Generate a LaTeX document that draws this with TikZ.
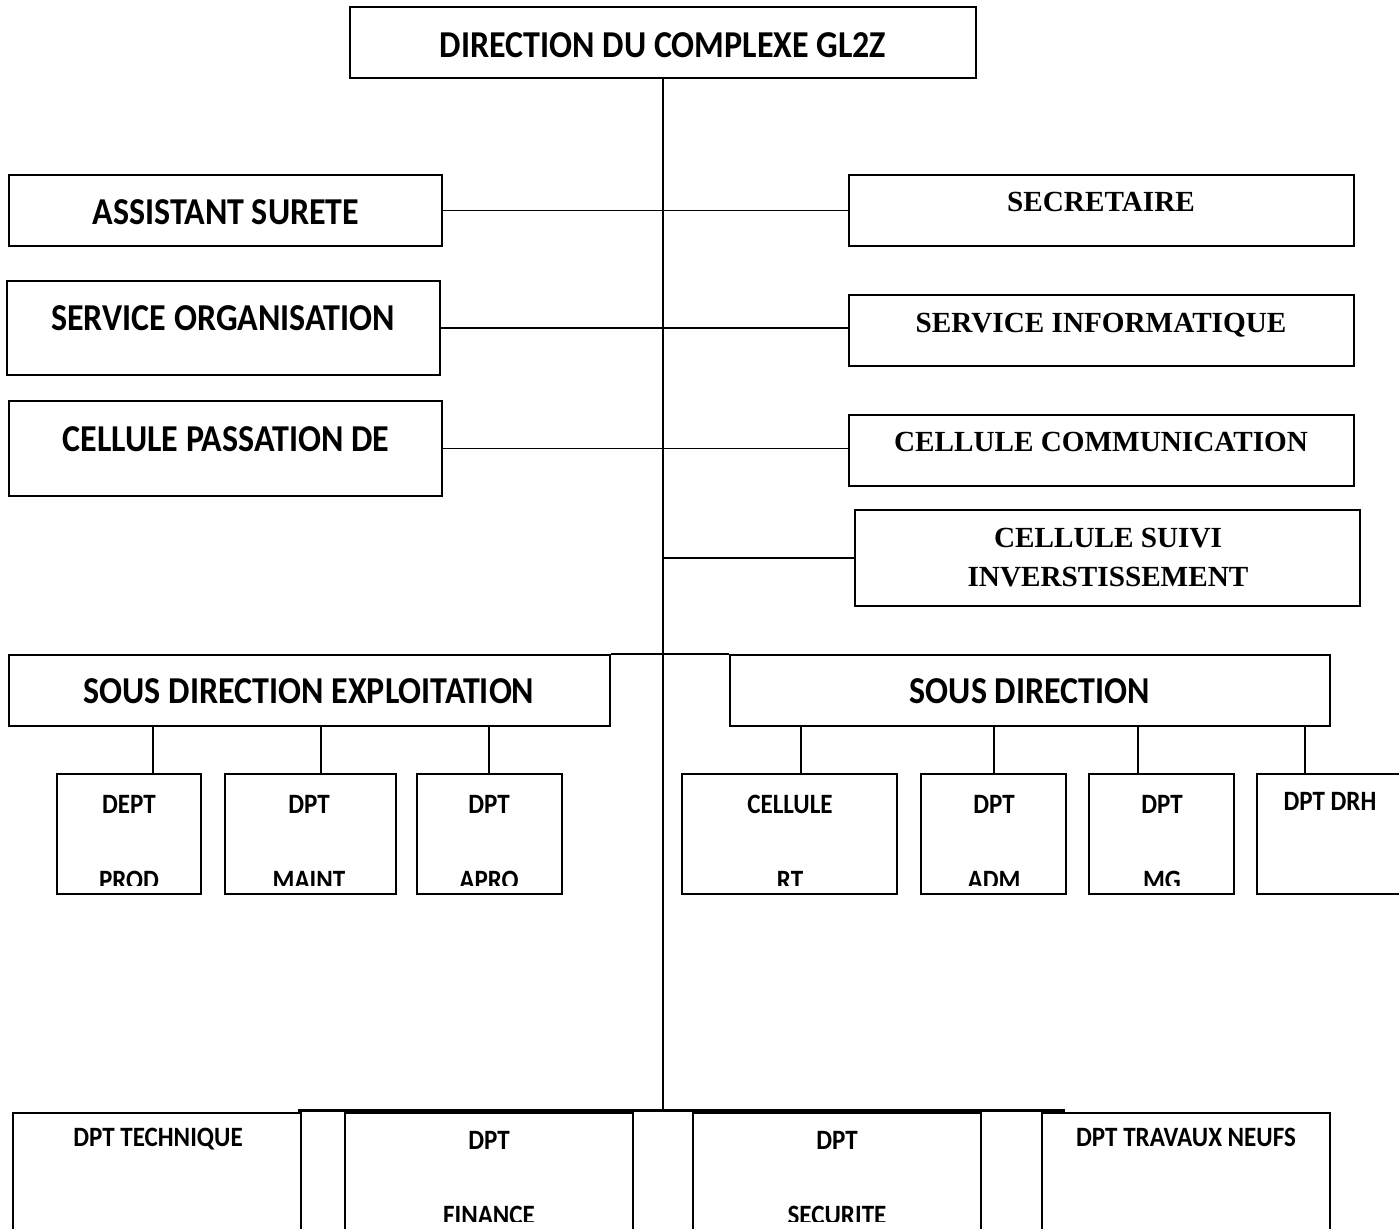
\documentclass[tikz,border=0pt]{standalone}
\usepackage{fontspec}
\newfontfamily\csans{Carlito}[FakeStretch=0.895]
\newfontfamily\tserif{Liberation Serif}
\newcommand\obox[5]{\node[boxst, minimum width={(#4-#2)*0.5pt}, minimum height={(#5-#3)*0.5pt}] (#1) at ({(#2+#4)/2},{(#3+#5)/2}) {};}
\tikzset{
  boxst/.style={draw, line width=1pt, inner sep=0pt, rectangle},
  big/.style={font=\csans\bfseries\fontsize{19}{22}\selectfont, anchor=base, inner sep=0pt},
  small/.style={font=\csans\bfseries\fontsize{14}{16}\selectfont, anchor=base, inner sep=0pt},
  ser/.style={font=\tserif\bfseries\fontsize{14.6}{17}\selectfont, anchor=base, inner sep=0pt},
  link/.style={line width=0.75pt},
}
\begin{document}
\begin{tikzpicture}[x=0.5pt,y=-0.5pt]
\clip (0,0) rectangle (1399,1229);
\fill[white] (0,0) rectangle (1399,1229);
% boxes
\obox{top}{350}{7}{976}{78}
\obox{as}{9}{175}{442}{246}
\obox{sec}{849}{175}{1354}{246}
\obox{so}{7}{281}{440}{375}
\obox{si}{849}{295}{1354}{366}
\obox{cp}{9}{401}{442}{496}
\obox{cc}{849}{415}{1354}{486}
\obox{cs}{855}{510}{1360}{606}
\obox{sde}{9}{655}{610}{726}
\obox{sdr}{730}{655}{1330}{726}
\obox{c1}{57}{774}{201}{894}
\obox{c2}{225}{774}{396}{894}
\obox{c3}{417}{774}{562}{894}
\obox{r1}{682}{774}{897}{894}
\obox{r2}{921}{774}{1066}{894}
\obox{r3}{1089}{774}{1234}{894}
\obox{r4}{1257}{774}{1403}{894}
\obox{b1}{13}{1113}{301}{1245}
\obox{b2}{345}{1113}{633}{1245}
\obox{b3}{693}{1113}{981}{1245}
\obox{b4}{1042}{1113}{1330}{1245}
% connectors
\coordinate (tb) at (663,1110);
\draw[link] (top.south -| tb) -- (tb);
\draw[link] (as.east) -- (sec.west);
\draw[link] (so.east) -- (so.east -| si.west);
\draw[link] (cp.east) -- (cp.east -| cc.west);
\draw[link] (cs.west) -- (cs.west -| tb);
\draw[link] (sde.north east) -- (sdr.north west);
\foreach \n/\x in {c1/153,c2/321,c3/489}{
  \coordinate (k\n) at (\x,0);
  \draw[link] (sde.south -| k\n) -- (\n.north -| k\n);
}
\foreach \n/\x in {r1/801,r2/994,r3/1138,r4/1305}{
  \coordinate (k\n) at (\x,0);
  \draw[link] (sdr.south -| k\n) -- (\n.north -| k\n);
}
\coordinate (hl) at (298,1110);
\coordinate (hr) at (1065,1110);
\draw[line width=1.5pt] (hl) -- (hr);
% texts
\node[big] (ttop) at (663,58) {DIRECTION DU COMPLEXE GL2Z};
\node[big] (tas) at (226,225) {ASSISTANT SURETE};
\node[big] (tso) at (223,331) {SERVICE ORGANISATION};
\node[big] (tcp) at (226,452) {CELLULE PASSATION DE};
\node[ser] (tsec) at (1101,212) {SECRETAIRE};
\node[ser] (tsi) at (1101,333) {SERVICE INFORMATIQUE};
\node[ser] (tcc) at (1101,452) {CELLULE COMMUNICATION};
\node[ser] (tcs1) at (1108,548) {CELLULE SUIVI};
\node[ser] (tcs2) at (1108,587) {INVERSTISSEMENT};
\node[big] (tsde) at (309,704) {SOUS DIRECTION EXPLOITATION};
\node[big] (tsdr) at (1030,704) {SOUS DIRECTION};
\node[small] (tc1) at (129,814) {DEPT};
\node[small] (tc2) at (309,814) {DPT};
\node[small] (tc3) at (489,814) {DPT};
\node[small] (tr1) at (790,814) {CELLULE};
\node[small] (tr2) at (994,814) {DPT};
\node[small] (tr3) at (1162,814) {DPT};
\node[small] (tr4) at (1330,811) {DPT DRH};
\begin{scope}
\clip (0,0) rectangle (1399,886);
\node[small] (bc1) at (129,890) {PROD};
\node[small] (bc2) at (309,890) {MAINT};
\node[small] (bc3) at (489,890) {APRO};
\node[small] (br1) at (790,890) {RT};
\node[small] (br2) at (994,890) {ADM};
\node[small] (br3) at (1162,890) {MG};
\end{scope}
\node[small] (tb1) at (158,1146) {DPT TECHNIQUE};
\node[small] (tb2) at (489,1149) {DPT};
\node[small] (tb3) at (837,1149) {DPT};
\node[small] (tb4) at (1186,1146) {DPT TRAVAUX NEUFS};
\begin{scope}
\clip (0,0) rectangle (1399,1221);
\node[small] (bb2) at (489,1224) {FINANCE};
\node[small] (bb3) at (837,1224) {SECURITE};
\end{scope}
\end{tikzpicture}
\end{document}
